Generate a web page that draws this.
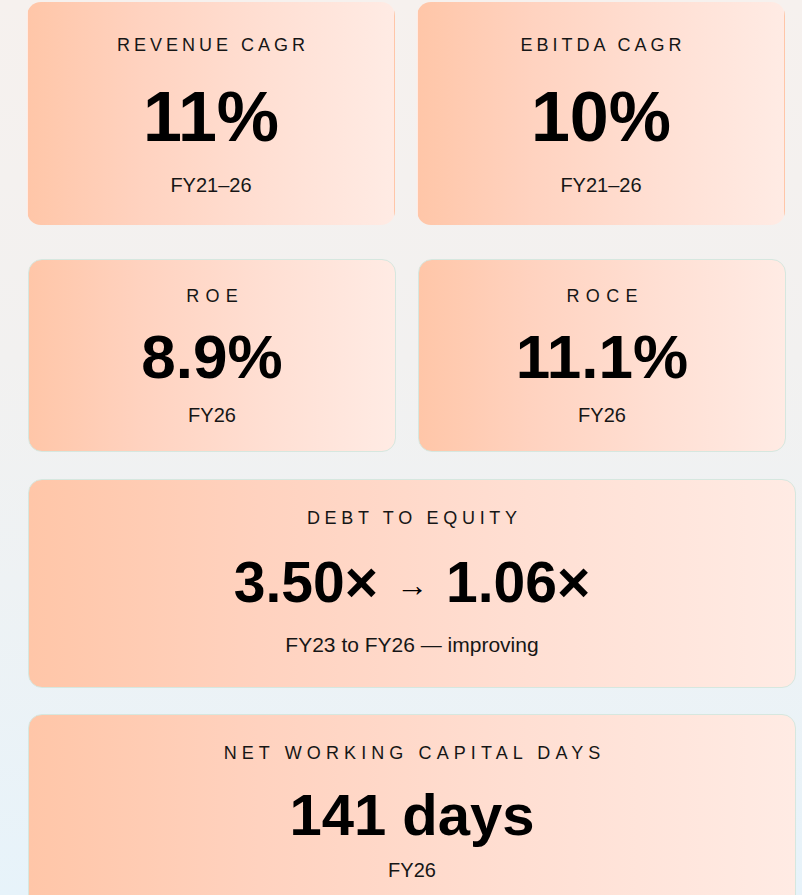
<!DOCTYPE html>
<html>
<head>
<meta charset="utf-8">
<script src="https://cdn.jsdelivr.net/npm/chart.js@4.4.1/dist/chart.umd.min.js"></script>
<style>
  html, body { margin: 0; padding: 0; }
  body {
    width: 802px; height: 895px; overflow: hidden; position: relative;
    background: linear-gradient(180deg, #f6f1ee 0%, #f2f1f0 40%, #eef2f4 65%, #e7f3fa 100%);
    font-family: "Liberation Sans", Arial, sans-serif; color: #111;
  }
  .card {
    position: absolute; box-sizing: border-box; border-radius: 14px;
    background: linear-gradient(90deg, #ffc6a8 0%, #ffd2bf 30%, #ffdfd3 65%, #ffebe4 100%);
    border: 1px solid #d6e7df;
  }
  .card.plain { border-color: transparent; }
  .card div { position: absolute; left: 0; right: 0; text-align: center; line-height: 1; white-space: nowrap; }
  .lbl { font-size: 18px; color: #161616; }
  .val { font-weight: bold; color: #000; }
  .val .arrow { font-size: 32px; font-weight: normal; margin: 0 18px; vertical-align: 6px; }
  .sub { font-size: 20px; color: #161616; }
</style>
</head>
<body>
<script>
const kpiLabels = ["REVENUE CAGR", "EBITDA CAGR", "ROE", "ROCE", "DEBT TO EQUITY", "NET WORKING CAPITAL DAYS"];
const kpiValues = ["11%", "10%", "8.9%", "11.1%", "3.50× → 1.06×", "141 days"];
const kpiPeriods = ["FY21–26", "FY21–26", "FY26", "FY26", "FY23 to FY26 — improving", "FY26"];

// card boxes: [left, top, width, height, labelTop, valueTop, valueSize, subTop, letterSpacing, subSize, noBorder]
const boxes = [
  [27, 2, 368, 223, 33, 79, 70, 172, 4, 20, true],
  [417, 2, 368, 223, 33, 79, 70, 172, 4, 20, true],
  [28, 259, 368, 193, 27, 66, 62, 145, 6.3, 20, false],
  [418, 259, 368, 193, 27, 66, 62, 145, 6.3, 20, false],
  [28, 479, 768, 209, 29, 74, 57, 154, 4.7, 21, false],
  [28, 714, 768, 200, 29, 71, 58, 145, 5.1, 20, false],
];

kpiLabels.forEach((label, i) => {
  const [x, y, w, h, lt, vt, vs, st, ls, ss, plain] = boxes[i];
  const card = document.createElement("div");
  card.className = "card" + (plain ? " plain" : "");
  card.style.cssText = `left:${x}px;top:${y}px;width:${w}px;height:${h}px;`;

  const l = document.createElement("div");
  l.className = "lbl";
  l.textContent = label;
  l.style.cssText = `top:${lt}px;letter-spacing:${ls}px;padding-left:${ls}px;`;

  const v = document.createElement("div");
  v.className = "val";
  v.style.cssText = `top:${vt}px;font-size:${vs}px;`;
  const parts = kpiValues[i].split(" → ");
  if (parts.length === 2) {
    const arrow = document.createElement("span");
    arrow.className = "arrow";
    arrow.textContent = "→";
    v.append(parts[0], arrow, parts[1]);
  } else {
    v.textContent = kpiValues[i];
  }

  const s = document.createElement("div");
  s.className = "sub";
  s.textContent = kpiPeriods[i];
  s.style.cssText = `top:${st}px;font-size:${ss}px;`;

  card.append(l, v, s);
  document.body.appendChild(card);
});
</script>
</body>
</html>
